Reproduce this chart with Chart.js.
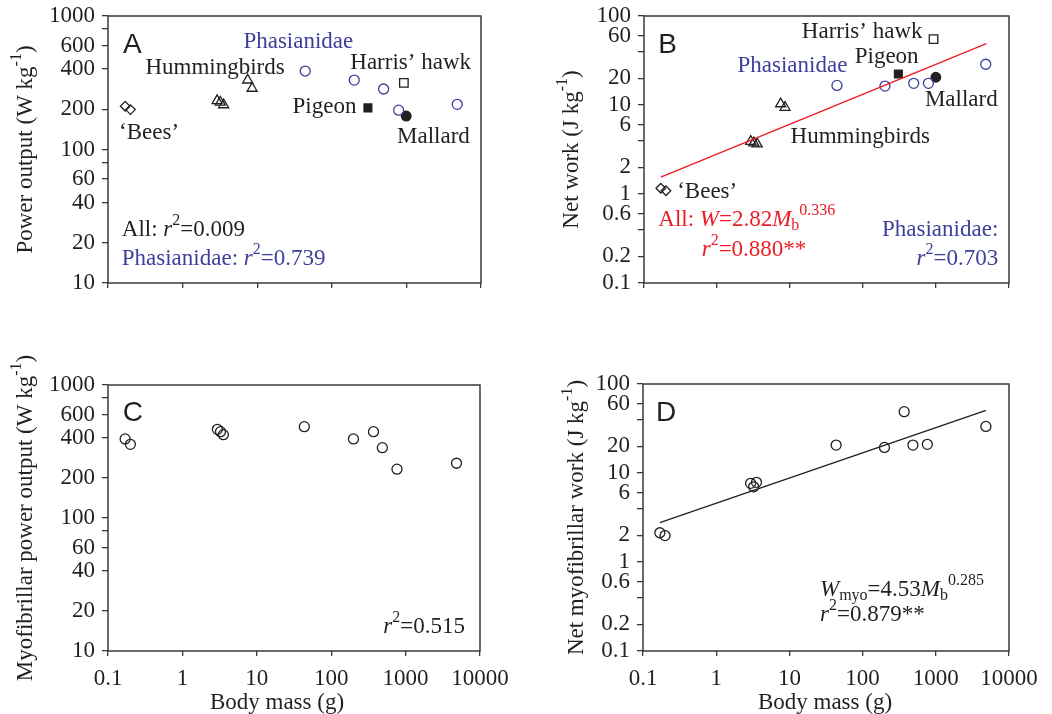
<!DOCTYPE html>
<html>
<head>
<meta charset="utf-8">
<script src="https://cdn.jsdelivr.net/npm/chart.js@4.4.1/dist/chart.umd.min.js"></script>
<style>
  body { margin: 0; background: #fff; width: 1052px; height: 714px; position: relative; overflow: hidden; }
  .panel { position: absolute; }
</style>
</head>
<body>
<div class="panel" style="left:0;top:0"><canvas id="chartA" width="520" height="330"></canvas></div>
<div class="panel" style="left:520px;top:0"><canvas id="chartB" width="532" height="330"></canvas></div>
<div class="panel" style="left:0;top:330px"><canvas id="chartC" width="520" height="384"></canvas></div>
<div class="panel" style="left:520px;top:330px"><canvas id="chartD" width="532" height="384"></canvas></div>
<script>
// body mass (g) per group, shared by panels A and B
const beesMass = [0.17, 0.2];
const hummingbirdMass = [2.9, 3.2, 3.55, 7.45, 8.55];
const phasianidMass = [44, 200, 495, 787, 4800];
const hawkMass = [925];
const pigeonMass = [305];
const mallardMass = [995];

// A: power output (W/kg)
const beesPower = [211, 199];
const hummingbirdPower = [232, 226, 216, 331, 287];
const phasianidPower = [387, 331, 284, 197, 218];
const hawkPower = [316];
const pigeonPower = [205];
const mallardPower = [178];

// B: net work (J/kg)
const beesWork = [1.16, 1.09];
const hummingbirdWork = [3.9, 3.75, 3.65, 10.3, 9.4];
const phasianidWork = [16.6, 16.3, 17.5, 17.5, 28.7];
const hawkWork = [55];
const pigeonWork = [22.3];
const mallardWork = [20.5];
const allFitMass = [0.17, 4900];
const allFitWork = [1.55, 49];

// C, D: myofibrillar values
const myoMass = [0.17, 0.2, 2.95, 3.25, 3.55, 43.5, 199, 370, 487, 766, 4835];
const myoPower = [393, 358, 464, 446, 423, 486, 393, 446, 338, 233, 258];
const myoWork = [2.13, 1.98, 7.66, 7.0, 7.86, 20.6, 19.4, 48.9, 20.6, 21, 33.4];
const myoFitMass = [0.17, 4850];
const myoFitWork = [2.77, 50.6];

// ticks
const massTicks = [0.1, 1, 10, 100, 1000, 10000];
const massTickLabels = ['0.1', '1', '10', '100', '1000', '10000'];
const powerTicks = [10, 20, 40, 60, 80, 100, 200, 400, 600, 800, 1000];
const powerTickLabels = ['10', '20', '40', '60', '', '100', '200', '400', '600', '', '1000'];
const workTicks = [0.1, 0.2, 0.4, 0.6, 1, 2, 4, 6, 10, 20, 40, 60, 100];
const workTickLabels = ['0.1', '0.2', '', '0.6', '1', '2', '', '6', '10', '20', '', '60', '100'];

const INK = '#231f20';
const BLUE = '#3d3f9a';
const RED = '#ed1c24';
const SERIF = '"Liberation Serif", "Times New Roman", serif';
const SANS = '"Liberation Sans", Arial, sans-serif';

const pts = (xs, ys) => xs.map((x, i) => ({ x, y: ys[i] }));

function marker(data, style, radius, color, filled) {
  return {
    data, showLine: false, pointStyle: style, pointRadius: radius,
    pointBorderWidth: 1.3, borderColor: color,
    backgroundColor: filled ? color : 'rgba(0,0,0,0)'
  };
}

function fitLine(data, color) {
  return { data, showLine: true, pointRadius: 0, borderColor: color, borderWidth: 1.4, fill: false };
}

function drawRich(ctx, segs, x, y, align, size, color, family) {
  const fontFor = s => (s.i ? 'italic ' : '') + ((s.sup || s.sub) ? Math.round(size * 0.68) : size) + 'px ' + family;
  let w = 0;
  segs.forEach(s => { ctx.font = fontFor(s); w += ctx.measureText(s.t).width; });
  let cx = align === 'center' ? x - w / 2 : align === 'right' ? x - w : x;
  ctx.fillStyle = color;
  ctx.textAlign = 'left';
  ctx.textBaseline = 'middle';
  segs.forEach(s => {
    ctx.font = fontFor(s);
    const dy = s.sup ? -size * 0.4 : s.sub ? size * 0.25 : 0;
    ctx.fillText(s.t, cx, y + dy);
    cx += ctx.measureText(s.t).width;
  });
}

const textPlugin = {
  id: 'panelText',
  afterDraw(chart, args, opts) {
    const ctx = chart.ctx;
    const area = chart.chartArea;
    ctx.save();
    // frame round the plot area
    ctx.strokeStyle = '#3a3a3a';
    ctx.lineWidth = 1.5;
    ctx.strokeRect(area.left, area.top, area.right - area.left, area.bottom - area.top);
    (opts.labels || []).forEach(l => {
      const px = chart.scales.x.getPixelForValue(l.x);
      const py = chart.scales.y.getPixelForValue(l.y);
      drawRich(ctx, l.segs, px, py, l.align || 'center', l.size || 23, l.color || INK, l.sans ? SANS : SERIF);
    });
    // rotated y title
    if (opts.yTitle) {
      ctx.save();
      ctx.translate(opts.yTitleX, (area.top + area.bottom) / 2);
      ctx.rotate(-Math.PI / 2);
      drawRich(ctx, opts.yTitle, 0, 0, 'center', 23, INK, SERIF);
      ctx.restore();
    }
    if (opts.xTitle) {
      drawRich(ctx, [{ t: opts.xTitle }], opts.xTitleX, opts.xTitleY, 'center', 23, INK, SERIF);
    }
    ctx.restore();
  }
};

function makeChart(id, cfg) {
  return new Chart(document.getElementById(id), {
    type: 'scatter',
    data: { datasets: cfg.datasets },
    options: {
      responsive: false,
      animation: false,
      events: [],
      layout: { padding: { top: cfg.top, right: cfg.right, left: 0, bottom: 0 } },
      plugins: {
        legend: { display: false },
        tooltip: { enabled: false },
        panelText: cfg.text
      },
      scales: {
        x: {
          type: 'logarithmic', min: 0.1, max: 10000,
          afterBuildTicks: s => { s.ticks = massTicks.map(v => ({ value: v })); },
          afterFit: s => { s.height = cfg.xHeight; s.paddingLeft = 0; s.paddingRight = 0; },
          ticks: {
            display: cfg.xLabels, autoSkip: false, maxRotation: 0, padding: 9,
            color: INK, font: { family: SERIF, size: 23 },
            callback: (v, i) => massTickLabels[i]
          },
          grid: { drawOnChartArea: false, drawTicks: true, tickLength: 5, color: '#3a3a3a', lineWidth: 1.3 },
          border: { display: false }
        },
        y: {
          type: 'logarithmic', min: cfg.yTicks[0], max: cfg.yTicks[cfg.yTicks.length - 1],
          afterBuildTicks: s => { s.ticks = cfg.yTicks.map(v => ({ value: v })); },
          afterFit: s => { s.width = cfg.yWidth; s.paddingTop = 0; s.paddingBottom = 0; },
          ticks: {
            autoSkip: false, padding: 7,
            color: INK, font: { family: SERIF, size: 23 },
            callback: (v, i) => cfg.yTickLabels[i]
          },
          grid: { drawOnChartArea: false, drawTicks: true, tickLength: 6, color: '#3a3a3a', lineWidth: 1.3 },
          border: { display: false }
        }
      }
    },
    plugins: [textPlugin]
  });
}

const unitSup = [{ t: '-1', sup: true }, { t: ')' }];

makeChart('chartA', {
  top: 16, right: 39, yWidth: 108, xHeight: 47, xLabels: false,
  yTicks: powerTicks, yTickLabels: powerTickLabels,
  datasets: [
    marker(pts(beesMass, beesPower), 'rectRot', 4.8, INK, false),
    marker(pts(hummingbirdMass, hummingbirdPower), 'triangle', 5.8, INK, false),
    marker(pts(phasianidMass, phasianidPower), 'circle', 5, BLUE, false),
    marker(pts(hawkMass, hawkPower), 'rect', 6, INK, false),
    marker(pts(pigeonMass, pigeonPower), 'rect', 5.5, INK, true),
    marker(pts(mallardMass, mallardPower), 'circle', 4.8, INK, true)
  ],
  text: {
    yTitle: [{ t: 'Power output (W kg' }].concat(unitSup), yTitleX: 26,
    labels: [
      { x: 0.159, y: 605, segs: [{ t: 'A' }], align: 'left', sans: true, size: 28 },
      { x: 35.6, y: 641, segs: [{ t: 'Phasianidae' }], color: BLUE },
      { x: 2.72, y: 409, segs: [{ t: 'Hummingbirds' }] },
      { x: 1140, y: 447, segs: [{ t: 'Harris\u2019 hawk' }] },
      { x: 79.8, y: 209, segs: [{ t: 'Pigeon' }] },
      { x: 2306, y: 124, segs: [{ t: 'Mallard' }] },
      { x: 0.355, y: 133, segs: [{ t: '\u2018Bees\u2019' }] },
      { x: 0.153, y: 25.1, segs: [{ t: 'All: ' }, { t: 'r', i: true }, { t: '2', sup: true }, { t: '=0.009' }], align: 'left' },
      { x: 0.153, y: 15.2, segs: [{ t: 'Phasianidae: ' }, { t: 'r', i: true }, { t: '2', sup: true }, { t: '=0.739' }], align: 'left', color: BLUE }
    ]
  }
});

makeChart('chartB', {
  top: 16, right: 43, yWidth: 124, xHeight: 47, xLabels: false,
  yTicks: workTicks, yTickLabels: workTickLabels,
  datasets: [
    fitLine(pts(allFitMass, allFitWork), RED),
    marker(pts(beesMass, beesWork), 'rectRot', 4.8, INK, false),
    marker(pts(hummingbirdMass, hummingbirdWork), 'triangle', 5.8, INK, false),
    marker(pts(phasianidMass, phasianidWork), 'circle', 5, BLUE, false),
    marker(pts(hawkMass, hawkWork), 'rect', 6, INK, false),
    marker(pts(pigeonMass, pigeonWork), 'rect', 5.5, INK, true),
    marker(pts(mallardMass, mallardWork), 'circle', 4.8, INK, true)
  ],
  text: {
    yTitle: [{ t: 'Net work (J kg' }].concat(unitSup), yTitleX: 52,
    labels: [
      { x: 0.157, y: 47.2, segs: [{ t: 'B' }], align: 'left', sans: true, size: 28 },
      { x: 97.5, y: 66.7, segs: [{ t: 'Harris\u2019 hawk' }] },
      { x: 211, y: 34.9, segs: [{ t: 'Pigeon' }] },
      { x: 10.8, y: 27.4, segs: [{ t: 'Phasianidae' }], color: BLUE },
      { x: 2223, y: 11.4, segs: [{ t: 'Mallard' }] },
      { x: 91.6, y: 4.41, segs: [{ t: 'Hummingbirds' }] },
      { x: 0.734, y: 1.06, segs: [{ t: '\u2018Bees\u2019' }] },
      { x: 0.157, y: 0.51, segs: [{ t: 'All: ' }, { t: 'W', i: true }, { t: '=2.82' }, { t: 'M', i: true }, { t: 'b', sub: true }, { t: '0.336', sup: true }], align: 'left', color: RED },
      { x: 0.617, y: 0.235, segs: [{ t: 'r', i: true }, { t: '2', sup: true }, { t: '=0.880**' }], align: 'left', color: RED },
      { x: 7130, y: 0.394, segs: [{ t: 'Phasianidae:' }], align: 'right', color: BLUE },
      { x: 7130, y: 0.185, segs: [{ t: 'r', i: true }, { t: '2', sup: true }, { t: '=0.703' }], align: 'right', color: BLUE }
    ]
  }
});

makeChart('chartC', {
  top: 55, right: 40, yWidth: 108, xHeight: 63, xLabels: true,
  yTicks: powerTicks, yTickLabels: powerTickLabels,
  datasets: [
    marker(pts(myoMass, myoPower), 'circle', 5, INK, false)
  ],
  text: {
    yTitle: [{ t: 'Myofibrillar power output (W kg' }].concat(unitSup), yTitleX: 26,
    xTitle: 'Body mass (g)', xTitleX: 277, xTitleY: 373,
    labels: [
      { x: 0.158, y: 612, segs: [{ t: 'C' }], align: 'left', sans: true, size: 28 },
      { x: 6280, y: 15.2, segs: [{ t: 'r', i: true }, { t: '2', sup: true }, { t: '=0.515' }], align: 'right' }
    ]
  }
});

makeChart('chartD', {
  top: 54, right: 43, yWidth: 123, xHeight: 63, xLabels: true,
  yTicks: workTicks, yTickLabels: workTickLabels,
  datasets: [
    fitLine(pts(myoFitMass, myoFitWork), INK),
    marker(pts(myoMass, myoWork), 'circle', 5, INK, false)
  ],
  text: {
    yTitle: [{ t: 'Net myofibrillar work (J kg' }].concat(unitSup), yTitleX: 57,
    xTitle: 'Body mass (g)', xTitleX: 305, xTitleY: 373,
    labels: [
      { x: 0.151, y: 46.9, segs: [{ t: 'D' }], align: 'left', sans: true, size: 28 },
      { x: 26.2, y: 0.484, segs: [{ t: 'W', i: true }, { t: 'myo', sub: true }, { t: '=4.53' }, { t: 'M', i: true }, { t: 'b', sub: true }, { t: '0.285', sup: true }], align: 'left' },
      { x: 26.2, y: 0.254, segs: [{ t: 'r', i: true }, { t: '2', sup: true }, { t: '=0.879**' }], align: 'left' }
    ]
  }
});
</script>
</body>
</html>
